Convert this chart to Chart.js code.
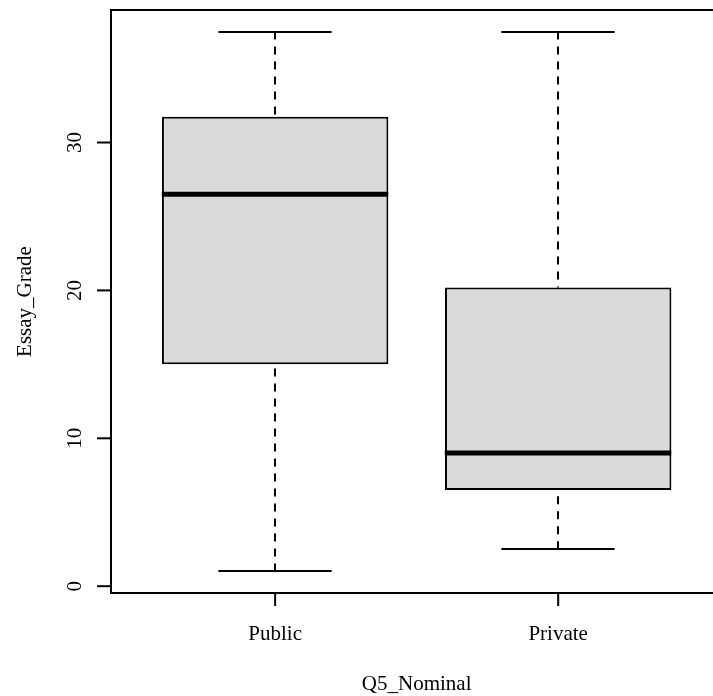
<!DOCTYPE html>
<html><head><meta charset="utf-8">
<script src="https://cdn.jsdelivr.net/npm/chart.js@4"></script>
<style>html,body{margin:0;padding:0;background:#fff}canvas{display:block}</style>
</head><body>
<canvas id="c" width="713" height="696"></canvas>
<script>
const categories = ['Public', 'Private'];
const whiskerLow = [1.0, 2.5];
const q1 = [15.0, 6.5];
const median = [26.5, 9.0];
const q3 = [31.75, 20.2];
const whiskerHigh = [37.5, 37.5];
const yTicks = [0, 10, 20, 30];
const xTitle = 'Q5_Nominal';
const yTitle = 'Essay_Grade';

const FONT = '21px "Liberation Serif", "Times New Roman", serif';
const positions = categories.map((c, i) => i + 1);

const boxPlugin = {
  id: 'rbox',
  afterDatasetsDraw(chart) {
    const ctx = chart.ctx;
    const xs = chart.scales.x, ys = chart.scales.y;
    const a = chart.chartArea;
    const unit = xs.getPixelForValue(2) - xs.getPixelForValue(1);
    ctx.save();
    ctx.strokeStyle = '#000';
    ctx.lineCap = 'butt';
    categories.forEach((c, i) => {
      const cx = Math.round(xs.getPixelForValue(positions[i]));
      const half = unit * 0.8 / 2;
      const cap = unit * 0.4 / 2;
      // whiskers
      ctx.lineWidth = 2;
      ctx.setLineDash([8, 7]);
      ctx.beginPath();
      ctx.moveTo(cx, ys.getPixelForValue(whiskerHigh[i]));
      ctx.lineTo(cx, ys.getPixelForValue(q3[i]));
      ctx.moveTo(cx, ys.getPixelForValue(whiskerLow[i]));
      ctx.lineTo(cx, ys.getPixelForValue(q1[i]));
      ctx.stroke();
      ctx.setLineDash([]);
      // caps
      ctx.beginPath();
      [whiskerHigh[i], whiskerLow[i]].forEach(v => {
        const py = Math.round(ys.getPixelForValue(v));
        ctx.moveTo(cx - cap, py);
        ctx.lineTo(cx + cap, py);
      });
      ctx.stroke();
      // median
      ctx.lineWidth = 5;
      ctx.beginPath();
      const my = ys.getPixelForValue(median[i]);
      ctx.moveTo(cx - half, my);
      ctx.lineTo(cx + half, my);
      ctx.stroke();
    });
    // frame
    ctx.lineWidth = 2;
    ctx.beginPath();
    ctx.moveTo(a.right + 20, a.top);
    ctx.lineTo(a.left, a.top);
    ctx.lineTo(a.left, a.bottom);
    ctx.lineTo(a.right + 20, a.bottom);
    ctx.stroke();
    // y ticks
    ctx.fillStyle = '#000';
    ctx.font = FONT;
    yTicks.forEach(t => {
      const py = ys.getPixelForValue(t);
      ctx.beginPath();
      ctx.moveTo(a.left - 14, py);
      ctx.lineTo(a.left, py);
      ctx.stroke();
      ctx.save();
      ctx.translate(a.left - 30, py);
      ctx.rotate(-Math.PI / 2);
      ctx.textAlign = 'center';
      ctx.textBaseline = 'alphabetic';
      ctx.fillText(String(t), 0, 0);
      ctx.restore();
    });
    // x ticks
    categories.forEach((c, i) => {
      const px = xs.getPixelForValue(positions[i]);
      ctx.beginPath();
      ctx.moveTo(px, a.bottom);
      ctx.lineTo(px, a.bottom + 13);
      ctx.stroke();
      ctx.textAlign = 'center';
      ctx.textBaseline = 'alphabetic';
      ctx.fillText(c, px, a.bottom + 47);
    });
    // titles
    const fullRight = xs.getPixelForValue(2.58);
    ctx.textAlign = 'center';
    ctx.fillText(xTitle, (a.left + fullRight) / 2, a.bottom + 97);
    ctx.save();
    ctx.translate(a.left - 80, (a.top + a.bottom) / 2);
    ctx.rotate(-Math.PI / 2);
    ctx.fillText(yTitle, 0, 0);
    ctx.restore();
    ctx.restore();
  }
};

new Chart(document.getElementById('c'), {
  type: 'bar',
  data: {
    datasets: [{
      data: categories.map((c, i) => ({ x: positions[i], y: [q1[i], q3[i]] })),
      backgroundColor: '#dadada',
      borderColor: '#000',
      borderWidth: 2,
      borderSkipped: false,
      barPercentage: 1,
      categoryPercentage: 0.8
    }]
  },
  options: {
    responsive: false,
    animation: false,
    layout: { padding: { left: 111, top: 10, right: 0, bottom: 103 } },
    plugins: { legend: { display: false }, tooltip: { enabled: false } },
    scales: {
      x: {
        type: 'linear', display: false, offset: false, min: 0.42, max: 2.547,
        afterBuildTicks: s => { s.ticks = positions.map(v => ({ value: v })); }
      },
      y: { type: 'linear', display: false, min: -0.46, max: 38.96 }
    }
  },
  plugins: [boxPlugin]
});
</script>
</body></html>
